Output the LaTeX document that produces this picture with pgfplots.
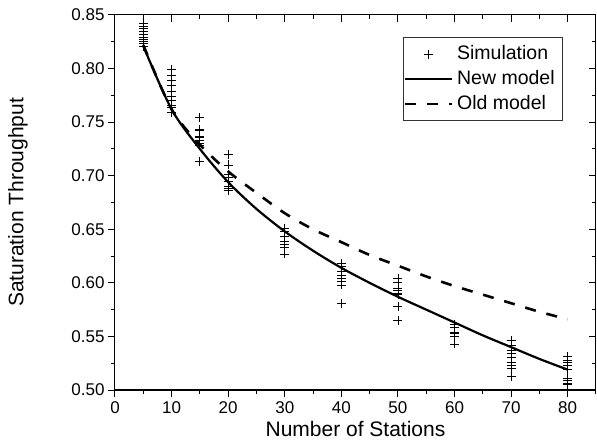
\documentclass[border=0pt]{standalone}
\usepackage{pgfplots}
\pgfplotsset{compat=1.18}
\usepackage{fontspec}
\setmainfont{Liberation Sans}
\begin{document}
\begin{tikzpicture}
\useasboundingbox (-115pt,-57pt) rectangle (482pt,390pt);
\pgfplotsset{
  common/.style={
    scale only axis, width=481pt, height=375pt,
    xmin=0, xmax=85, ymin=0.50, ymax=0.85,
    xtick={0,10,...,80}, minor xtick={5,15,...,85},
    ytick={0.50,0.55,...,0.86}, minor ytick={0.525,0.575,...,0.85},
    major tick length=7pt, minor tick length=4pt,
    every tick/.style={black, line width=1pt},
    every minor tick/.style={black, line width=1pt},
    axis line style={line width=1pt},
  }
}
\begin{axis}[common,
  at={(0,0)}, anchor=south west,
  xtick pos=bottom, ytick pos=left, tick align=outside,
  /pgf/number format/assume math mode=true,
  ticklabel style={font=\fontsize{17}{20}\selectfont},
  yticklabel style={/pgf/number format/.cd, fixed, fixed zerofill, precision=2},
  xticklabel style={yshift=-1pt},
  xlabel={Number of Stations}, ylabel={Saturation Throughput},
  label style={font=\fontsize{21}{24}\selectfont},
  xlabel style={at={(axis description cs:0.5,-0.104)}, anchor=center},
  ylabel style={at={(axis description cs:-0.2017,0.5)}, anchor=center},
  legend style={at={(axis description cs:0.599,0.941)}, anchor=north west,
    draw=black!80, line width=0.8pt, inner xsep=0pt, inner ysep=4pt,
    font=\fontsize{19.5}{22}\selectfont, row sep=0pt, column sep=0pt,
    nodes={inner xsep=0pt, inner ysep=3pt, text height=15pt, text depth=4pt}},
  legend cell align=left,
  legend image code/.code={\draw[mark repeat=2,mark phase=2] plot coordinates {(-10pt,0pt) (13.5pt,0pt) (37pt,0pt)};},
]
\addplot[only marks, mark=+, mark size=4.5pt, line width=0.8pt, black] coordinates {
 (5,0.8423) (5,0.8398) (5,0.8377) (5,0.8346) (5,0.8315) (5,0.8293) (5,0.8274) (5,0.8253) (5,0.8232) (5,0.8209)
 (10,0.799) (10,0.794) (10,0.789) (10,0.784) (10,0.779) (10,0.774) (10,0.770) (10,0.766) (10,0.764) (10,0.759)
 (15,0.754) (15,0.743) (15,0.742) (15,0.737) (15,0.736) (15,0.733) (15,0.730) (15,0.728) (15,0.713)
 (20,0.720) (20,0.710) (20,0.701) (20,0.698) (20,0.695) (20,0.690) (20,0.688) (20,0.686) (20,0.686)
 (30,0.651) (30,0.648) (30,0.643) (30,0.639) (30,0.636) (30,0.633) (30,0.627)
 (40,0.618) (40,0.615) (40,0.611) (40,0.607) (40,0.604) (40,0.601) (40,0.598) (40,0.581)
 (50,0.604) (50,0.600) (50,0.595) (50,0.593) (50,0.590) (50,0.589) (50,0.578) (50,0.565)
 (60,0.561) (60,0.558) (60,0.554) (60,0.553) (60,0.550) (60,0.543)
 (70,0.546) (70,0.542) (70,0.537) (70,0.534) (70,0.530) (70,0.526) (70,0.523) (70,0.520) (70,0.513)
 (80,0.531) (80,0.528) (80,0.526) (80,0.523) (80,0.519) (80,0.511) (80,0.509) (80,0.506) (80,0.505)
};
\addlegendentry{\hspace*{4pt}Simulation\hspace*{8pt}}
\addplot[black, line width=2.2pt, smooth] coordinates {
 (5,0.821) (10,0.762) (15,0.725) (20,0.694) (25,0.669) (30,0.648) (35,0.630) (40,0.614)
 (45,0.600) (50,0.587) (55,0.575) (60,0.563) (65,0.551) (70,0.540) (75,0.529) (80,0.519)
};
\addlegendentry{\hspace*{4pt}New model\hspace*{8pt}}
\addplot[black, line width=2.6pt, dash pattern=on 11pt off 11pt, smooth] coordinates {
 (5,0.822) (10,0.762) (15,0.729) (20,0.704) (25,0.684) (30,0.665) (35,0.650) (40,0.638)
 (45,0.626) (50,0.616) (55,0.606) (60,0.597) (65,0.589) (70,0.581) (75,0.573) (80,0.566)
};
\addlegendentry{\hspace*{4pt}Old model\hspace*{8pt}}
\end{axis}
\begin{axis}[common,
  at={(0,0)}, anchor=south west,
  xtick pos=top, ytick pos=right, tick align=inside,
  xticklabels={}, yticklabels={},
]
\end{axis}
\end{tikzpicture}
\end{document}
